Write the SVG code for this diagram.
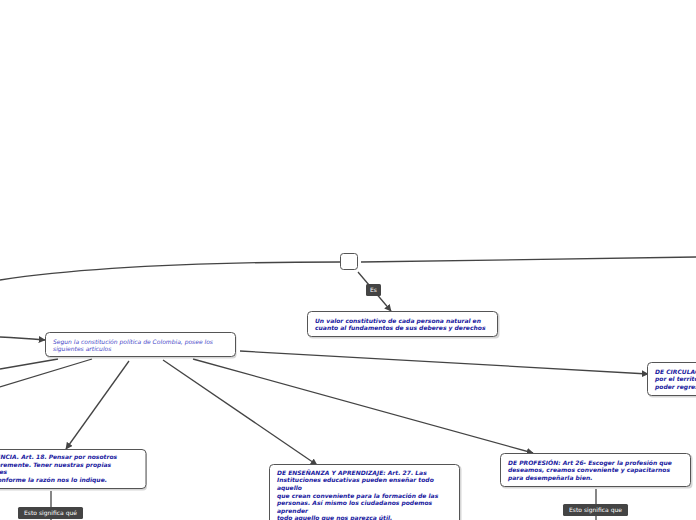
<svg xmlns="http://www.w3.org/2000/svg" width="696" height="520" viewBox="0 0 696 520">
<style>
.box{fill:#fff;stroke:#555;stroke-width:1}
.shadow{fill:#bbb;opacity:0.6}
.t{font-family:"DejaVu Sans",Verdana,sans-serif;font-size:6px;font-weight:bold;font-style:italic;fill:#1a1aa0}
.ts{font-family:"DejaVu Sans",Verdana,sans-serif;font-size:6px;font-style:italic;fill:#4646c8}
.c{fill:none;stroke:#444;stroke-width:1.3}
.lb{fill:#444}
.lt{font-family:"DejaVu Sans",Verdana,sans-serif;font-size:6px;fill:#fff}
</style>
<defs>
<marker id="ah" viewBox="0 0 10 10" refX="9" refY="5" markerWidth="7" markerHeight="7" orient="auto-start-reverse" markerUnits="userSpaceOnUse">
<path d="M0,0 L10,5 L0,10 z" fill="#444"/>
</marker>
</defs>
<rect width="696" height="520" fill="#fff"/>
<g id="connectors">
<path class="c" d="M0,280 Q120,262 340,262"/>
<path class="c" d="M361,262 L696,257"/>
<path class="c" d="M358,272 L391,311" marker-end="url(#ah)"/>
<path class="c" d="M0,337 Q20,338 45,340" marker-end="url(#ah)"/>
<path class="c" d="M58,359 L0,369"/>
<path class="c" d="M92,359 L0,387"/>
<path class="c" d="M129,361 L66,449" marker-end="url(#ah)"/>
<path class="c" d="M163,360 L317,465" marker-end="url(#ah)"/>
<path class="c" d="M193,359 L533,453" marker-end="url(#ah)"/>
<path class="c" d="M240,351 L648,374" marker-end="url(#ah)"/>
<path class="c" d="M51,491 L51,520"/>
<path class="c" d="M596,489 L596,520"/>
</g>
<g id="center">
<rect class="box" x="340.5" y="253.5" width="17" height="16" rx="3"/>
</g>
<g id="label-es">
<rect class="lb" x="366" y="284" width="15" height="12" rx="1.5"/>
<text class="lt" x="373.5" y="292.3" text-anchor="middle">Es</text>
</g>
<g id="node-valor">
<rect class="shadow" x="308.5" y="312.5" width="191" height="26" rx="4"/>
<rect class="box" x="307.5" y="311.5" width="190" height="25" rx="4"/>
<text class="t" x="315" y="322.5">Un valor constitutivo de cada persona natural en</text>
<text class="t" x="315" y="330">cuanto al fundamentos de sus deberes y derechos</text>
</g>
<g id="node-segun">
<rect class="shadow" x="46.5" y="333.5" width="190" height="25" rx="4"/>
<rect class="box" x="45.5" y="332.5" width="190" height="24" rx="4"/>
<text class="ts" x="53" y="343.5">Segun la constitución política de Colombia, posee los</text>
<text class="ts" x="53" y="350.5">siguientes articulos</text>
</g>
<g id="node-conciencia">
<rect class="shadow" x="-41" y="450.5" width="188" height="40" rx="4"/>
<rect class="box" x="-42" y="449.5" width="188" height="39" rx="4"/>
<text class="t" x="-36" y="459">DE CONCIENCIA. Art. 18. Pensar por nosotros</text>
<text class="t" x="-36" y="466.5">mismos libremente. Tener nuestras propias</text>
<text class="t" x="-36" y="474">convicciones</text>
<text class="t" x="-36" y="481.5">y actuar conforme la razón nos lo indique.</text>
</g>
<g id="label-conciencia">
<rect class="lb" x="18" y="507" width="65" height="12" rx="1.5"/>
<text class="lt" x="50.5" y="515.3" text-anchor="middle">Esto significa qué</text>
</g>
<g id="node-ensenanza">
<rect class="shadow" x="270.5" y="465.5" width="191" height="60" rx="4"/>
<rect class="box" x="269.5" y="464.5" width="190" height="60" rx="4"/>
<text class="t" x="277" y="474.5">DE ENSEÑANZA Y APRENDIZAJE: Art. 27. Las</text>
<text class="t" x="277" y="482">Instituciones educativas pueden enseñar todo</text>
<text class="t" x="277" y="489.5">aquello</text>
<text class="t" x="277" y="497.5">que crean conveniente para la formación de las</text>
<text class="t" x="277" y="505">personas. Así mismo los ciudadanos podemos</text>
<text class="t" x="277" y="512.5">aprender</text>
<text class="t" x="277" y="520">todo aquello que nos parezca útil.</text>
</g>
<g id="node-profesion">
<rect class="shadow" x="501.5" y="454.5" width="191" height="34" rx="4"/>
<rect class="box" x="500.5" y="453.5" width="190" height="33" rx="4"/>
<text class="t" x="508" y="464.5">DE PROFESIÓN: Art 26- Escoger la profesión que</text>
<text class="t" x="508" y="472">deseamos, creamos conveniente y capacitarnos</text>
<text class="t" x="508" y="479.5">para desempeñarla bien.</text>
</g>
<g id="label-profesion">
<rect class="lb" x="563" y="504" width="65" height="12" rx="1.5"/>
<text class="lt" x="595.5" y="512.3" text-anchor="middle">Esto significa que</text>
</g>
<g id="node-circulacion">
<rect class="shadow" x="648.5" y="363.5" width="191" height="34" rx="4"/>
<rect class="box" x="647.5" y="362.5" width="190" height="33" rx="4"/>
<text class="t" x="655" y="373.5">DE CIRCULACIÓN: Art. 24. Circular libremente</text>
<text class="t" x="655" y="381">por el territorio nacional, entrar, salir y</text>
<text class="t" x="655" y="388.5">poder regresar.</text>
</g>
</svg>
